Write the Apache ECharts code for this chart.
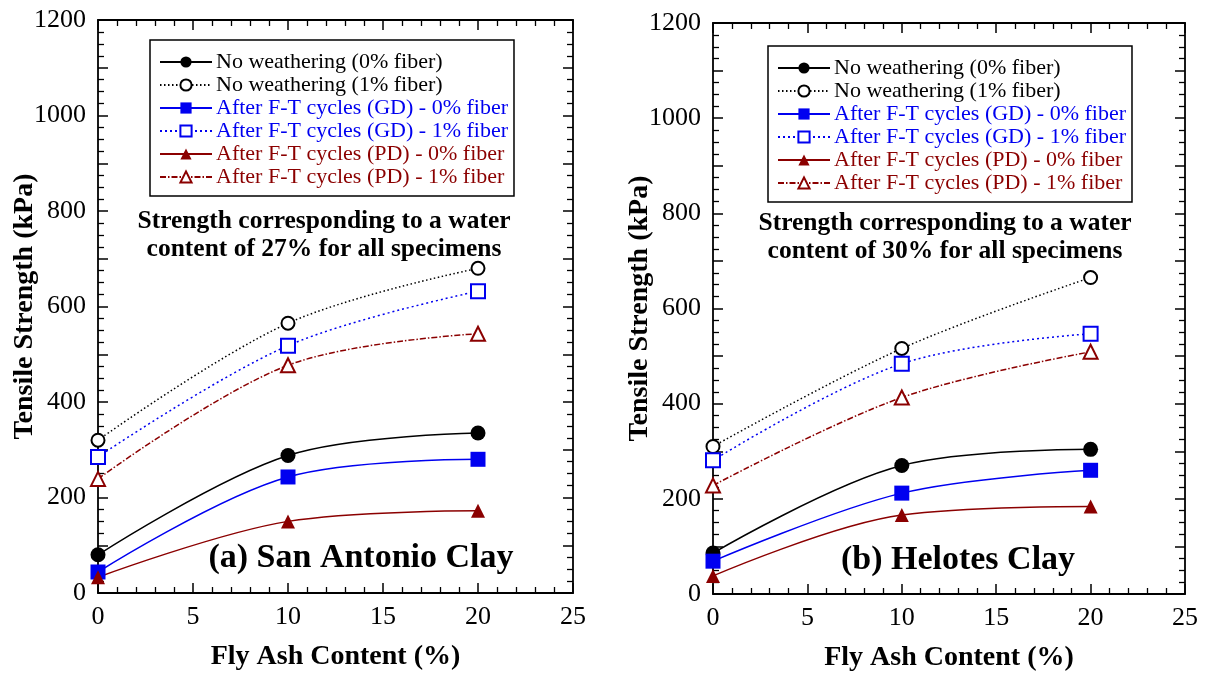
<!DOCTYPE html>
<html><head><meta charset="utf-8">
<script src="https://cdn.jsdelivr.net/npm/echarts@6/dist/echarts.min.js"></script>
<style>html,body{margin:0;padding:0;background:#fff}#c{width:1207px;height:677px}</style>
</head><body><div id="c"></div>
<script>
// ---- data ----
const flyAsh = [0, 10, 20];
const seriesNames = [
  'No weathering (0% fiber)',
  'No weathering (1% fiber)',
  'After F-T cycles (GD) - 0% fiber',
  'After F-T cycles (GD) - 1% fiber',
  'After F-T cycles (PD) - 0% fiber',
  'After F-T cycles (PD) - 1% fiber'
];
// (a) San Antonio Clay
const saNW0 = [80, 288, 335];
const saNW1 = [320, 565, 680];
const saGD0 = [44, 243, 280];
const saGD1 = [285, 518, 632];
const saPD0 = [33, 150, 172];
const saPD1 = [239, 477, 543];
// (b) Helotes Clay
const heNW0 = [86, 270, 304];
const heNW1 = [310, 516, 665];
const heGD0 = [69, 212, 260];
const heGD1 = [281, 484, 547];
const hePD0 = [38, 166, 184];
const hePD1 = [228, 413, 509];
const xTicks = [0, 5, 10, 15, 20, 25];
const yTicks = [0, 200, 400, 600, 800, 1000, 1200];

const panelData = [
  [saNW0, saNW1, saGD0, saGD1, saPD0, saPD1],
  [heNW0, heNW1, heGD0, heGD1, hePD0, hePD1]
];
const panelTitles = ['(a) San Antonio Clay', '(b) Helotes Clay'];
const noteLines = [
  ['Strength corresponding to a water', 'content of 27% for all specimens'],
  ['Strength corresponding to a water', 'content of 30% for all specimens']
];

// ---- styles ----
const BLUE = '#0000f0', RED = '#8b0000', BLACK = '#000';
const styles = [
  {color: BLACK, symbol: 'circle', size: 15, fill: true, type: 'solid', w: 1.5},
  {color: BLACK, symbol: 'emptyCircle', size: 13, fill: false, type: [1.5, 2.5], w: 1.5},
  {color: BLUE, symbol: 'rect', size: 15, fill: true, type: 'solid', w: 1.5},
  {color: BLUE, symbol: 'emptyRect', size: 14, fill: false, type: [2, 3], w: 1.5},
  {color: RED, symbol: 'triangle', size: 14, fill: true, type: 'solid', w: 1.5},
  {color: RED, symbol: 'emptyTriangle', size: 14, fill: false, type: [6, 2, 1.5, 2], w: 1.5}
];

const FONT = '"Liberation Serif", "DejaVu Serif", serif';
const grids = [
  {left: 98, top: 20, width: 475, height: 573},
  {left: 713, top: 23, width: 472, height: 573}
];
const legendPos = [{left: 150, top: 40}, {left: 768, top: 46}];
const notePos = [[324, 235], [945, 237]];
const titlePos = [[361, 558], [958, 560]];

const xAxes = [], yAxes = [], series = [], legends = [], graphics = [];
grids.forEach((g, gi) => {
  const xBase = {
    type: 'value', gridIndex: gi, min: xTicks[0], max: xTicks[xTicks.length - 1], interval: 5,
    axisLine: {show: true, onZero: false, lineStyle: {color: '#000', width: 1.8}},
    axisTick: {show: true, inside: true, length: 10, lineStyle: {color: '#000', width: 1.5}},
    minorTick: {show: true, splitNumber: 5, length: 6, lineStyle: {color: '#000', width: 1.3}},
    splitLine: {show: false}
  };
  xAxes.push(Object.assign({}, xBase, {
    position: 'bottom',
    axisLabel: {show: true, color: '#000', fontFamily: FONT, fontSize: 26, margin: 11},
    name: 'Fly Ash Content (%)', nameLocation: 'middle', nameGap: 50, nameMoveOverlap: false,
    nameTextStyle: {color: '#000', fontFamily: FONT, fontSize: 28, fontWeight: 'bold'}
  }));
  xAxes.push(Object.assign({}, xBase, {position: 'top', axisLabel: {show: false}}));
  const yBase = {
    type: 'value', gridIndex: gi, min: yTicks[0], max: yTicks[yTicks.length - 1], interval: 100,
    axisLine: {show: true, onZero: false, lineStyle: {color: '#000', width: 1.8}},
    axisTick: {show: true, inside: true, length: 10, lineStyle: {color: '#000', width: 1.5}},
    minorTick: {show: true, splitNumber: 4, length: 6, lineStyle: {color: '#000', width: 1.3}},
    splitLine: {show: false}
  };
  yAxes.push(Object.assign({}, yBase, {
    position: 'left',
    axisLabel: {show: true, color: '#000', fontFamily: FONT, fontSize: 26, margin: 12,
      formatter: v => (yTicks.indexOf(v) >= 0 ? String(v) : '')},
    name: 'Tensile Strength (kPa)', nameLocation: 'middle', nameGap: 59, nameRotate: 90,
    nameMoveOverlap: false,
    nameTextStyle: {color: '#000', fontFamily: FONT, fontSize: 28, fontWeight: 'bold'}
  }));
  yAxes.push(Object.assign({}, yBase, {position: 'right', axisLabel: {show: false}}));

  panelData[gi].forEach((vals, si) => {
    const s = styles[si];
    series.push({
      name: seriesNames[si], type: 'line', xAxisIndex: gi * 2, yAxisIndex: gi * 2,
      data: flyAsh.map((x, k) => [x, vals[k]]),
      smooth: 0.35, symbol: s.symbol, symbolSize: s.size,
      lineStyle: {color: s.color, width: s.w, type: s.type},
      itemStyle: {color: s.color, borderColor: s.color, borderWidth: s.fill ? 0 : 1.3},
      z: s.fill ? 3 : 2
    });
  });

  legends.push({
    orient: 'vertical', left: legendPos[gi].left, top: legendPos[gi].top,
    backgroundColor: '#fff', borderColor: '#000', borderWidth: 1.5,
    padding: [11, 6, 8, 9], itemGap: 1, itemWidth: 52, itemHeight: 14,
    textStyle: {fontFamily: FONT, fontSize: 22, lineHeight: 20, padding: [0, 0, 0, -1]},
    selectedMode: false,
    data: seriesNames.map((n, si) => ({name: n, textStyle: {color: styles[si].color}}))
  });

  graphics.push({type: 'text', z: 10,
    style: {text: noteLines[gi].join('\n'), x: notePos[gi][0], y: notePos[gi][1],
      textAlign: 'center', textVerticalAlign: 'middle', verticalAlign: 'middle',
      font: 'bold 25.5px ' + FONT, fill: '#000', lineHeight: 28}});
  graphics.push({type: 'text', z: 10,
    style: {text: panelTitles[gi], x: titlePos[gi][0], y: titlePos[gi][1],
      textAlign: 'center', textVerticalAlign: 'middle', verticalAlign: 'middle',
      font: 'bold 34px ' + FONT, fill: '#000'}});
});

const chart = echarts.init(document.getElementById('c'));
chart.setOption({
  animation: false,
  backgroundColor: '#fff',
  grid: grids,
  xAxis: xAxes,
  yAxis: yAxes,
  legend: legends,
  series: series,
  graphic: graphics
});
</script></body></html>
